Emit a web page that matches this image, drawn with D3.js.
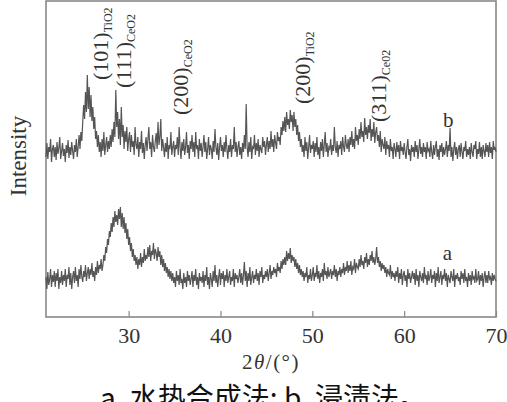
<!DOCTYPE html>
<html>
<head>
<meta charset="utf-8">
<script src="https://cdn.jsdelivr.net/npm/d3@7"></script>
<style>
  body { margin: 0; background: #fff; }
  svg { display: block; }
  .serif { font-family: "Liberation Serif", "DejaVu Serif", serif; fill: #333; }
</style>
</head>
<body>
<svg width="507" height="402"></svg>
<script>
var svg = d3.select("svg");

// 2-theta grid: 21.0 .. 70.0, step 0.1
var thetaStart = 21, thetaStep = 0.1;

// curve b (impregnation), intensity in plot units (already offset)
var seriesB = [
  160,174,158,170,165,178,155,168,172,160,
  170,157,175,163,169,180,158,166,174,161,
  168,155,172,164,177,159,170,162,175,166,
  158,172,165,178,160,170,182,168,185,176,
  195,212,198,225,205,242,208,230,200,222,
  196,210,188,200,178,186,170,182,165,175,
  160,178,166,185,162,172,180,165,176,168,
  182,170,188,175,195,180,227,190,205,178,
  198,172,210,180,192,168,186,175,190,166,
  178,185,165,182,170,176,162,190,172,168,
  180,160,175,168,186,164,174,158,172,180,
  166,178,190,168,175,160,182,170,165,176,
  184,168,195,172,180,198,166,178,170,160,
  174,165,180,158,172,168,185,162,170,176,
  160,172,168,180,162,190,170,158,175,166,
  178,162,170,185,164,172,158,176,168,182,
  165,175,160,185,168,172,158,178,166,174,
  160,170,182,165,175,158,168,180,162,172,
  168,158,176,165,188,170,162,174,157,170,
  180,166,172,160,175,165,182,168,158,172,
  165,178,160,172,168,190,165,175,160,170,
  176,162,170,158,174,165,182,168,213,170,
  160,175,165,180,158,170,168,182,162,174,
  166,178,160,172,168,164,180,170,176,162,
  172,180,165,176,168,186,170,178,165,182,
  174,168,185,176,180,172,190,182,196,186,
  200,185,205,192,198,188,207,195,202,186,
  205,190,198,182,192,176,185,170,178,165,
  172,160,180,166,175,158,170,182,164,172,
  168,176,160,174,165,180,162,170,158,175,
  166,178,160,172,185,165,174,160,170,168,
  178,162,172,166,190,170,164,176,160,172,
  168,176,162,180,170,165,182,172,168,178,
  165,180,172,186,170,178,168,190,176,182,
  172,188,178,195,180,186,175,199,182,190,
  178,192,184,198,176,188,180,195,174,185,
  190,176,182,170,186,165,178,172,168,180,
  162,176,168,172,160,178,166,170,158,174,
  168,160,175,165,172,158,176,166,170,162,
  174,165,158,170,178,162,168,156,172,165,
  170,160,176,165,172,158,168,178,163,170,
  160,174,165,170,158,175,166,168,160,176,
  165,158,172,162,170,176,160,168,157,172,
  165,174,160,170,162,168,176,160,172,166,
  189,160,170,156,168,175,162,170,158,168,
  172,160,174,165,158,170,166,176,160,168,
  162,170,158,174,165,160,172,168,176,158,
  168,163,175,160,170,158,172,166,160,174,
  165,172,160,175,164,170,158,176,167,170,
  165
];

// curve a (hydrothermal synthesis)
var seriesA = [
  40,28,45,32,38,48,30,42,35,46,
  30,44,36,48,28,40,34,46,32,42,
  36,48,30,42,38,50,32,44,28,40,
  46,34,50,36,42,30,48,38,52,40,
  35,46,40,52,36,44,50,38,48,42,
  54,40,46,36,50,42,56,44,52,48,
  58,46,52,62,56,70,64,78,72,86,
  80,94,85,100,90,106,95,102,92,108,
  98,110,90,104,88,100,84,94,78,88,
  72,80,66,74,60,68,56,62,52,60,
  48,58,52,64,50,60,54,68,56,62,
  58,70,60,72,56,66,62,74,58,68,
  64,56,70,60,66,52,62,50,58,46,
  54,44,50,40,48,38,46,36,44,34,
  40,30,46,36,42,32,48,34,38,28,
  44,34,40,30,46,36,42,32,38,46,
  30,42,36,48,32,40,28,44,36,40,
  34,46,30,42,36,50,32,40,28,44,
  38,30,46,36,52,34,42,30,40,48,
  32,44,38,46,30,42,36,48,34,40,
  46,32,40,36,48,30,44,38,42,34,
  40,48,34,44,32,42,55,36,46,30,
  44,36,50,32,40,46,34,42,38,48,
  36,44,32,46,40,50,34,42,38,46,
  40,48,36,44,52,38,46,42,50,44,
  48,40,54,46,50,44,56,48,58,52,
  60,52,66,56,64,58,69,54,62,56,
  60,50,58,48,54,44,52,42,48,40,
  46,36,44,40,50,34,42,38,48,36,
  42,50,36,44,40,52,38,46,34,44,
  40,48,36,54,42,46,38,50,40,44,
  48,38,46,42,52,40,48,36,46,42,
  50,40,48,44,54,42,50,46,56,44,
  52,46,56,42,50,48,58,44,54,50,
  48,58,50,62,52,56,48,60,54,64,
  50,58,52,62,56,66,54,60,52,58,
  70,54,60,50,56,46,54,48,52,44,
  50,40,48,44,42,52,38,46,40,44,
  36,46,40,50,34,44,38,48,32,42,
  46,36,42,30,48,38,44,34,40,46,
  38,44,32,48,36,42,30,46,40,36,
  44,34,50,38,42,32,46,36,40,48,
  34,42,38,46,30,44,36,50,34,40,
  46,32,42,38,48,36,44,30,42,38,
  34,46,40,36,48,30,42,38,44,36,
  40,32,46,38,44,34,48,36,40,30,
  44,36,42,32,46,38,40,34,48,36,
  38,46,32,42,36,44,30,40,46,34,
  42,34,46,38,40,32,44,36,42,38,
  36
];

var xTicks = [30, 40, 50, 60, 70];

// peak annotations
var peakTheta = [27.75, 30.25, 36.45, 49.75, 58.0];
var peakPlane = ["(101)", "(111)", "(200)", "(200)", "(311)"];
var peakPhase = ["TiO2", "CeO2", "CeO2", "TiO2", "Ce02"];
var peakBase  = [237, 229, 202, 213, 195];

var curveNames = ["a", "b"];
var curveLabelTheta = [64.7, 64.8];
var curveLabelY = [57, 190];

var plotLeft = 46, plotRight = 496, plotTop = 1, plotBottom = 317;

var x = d3.scaleLinear().domain([21, 70]).range([plotLeft, plotRight]);
var y = d3.scaleLinear().domain([0, 316]).range([plotBottom, plotTop]);

var line = d3.line()
  .x(function(d, i) { return x(thetaStart + i * thetaStep); })
  .y(function(d) { return y(d); });

// frame
svg.append("rect")
  .attr("x", plotLeft).attr("y", plotTop)
  .attr("width", plotRight - plotLeft).attr("height", plotBottom - plotTop)
  .attr("fill", "none").attr("stroke", "#888").attr("stroke-width", 1.6);

// inward ticks
var xAxis = d3.axisBottom(x).tickValues(xTicks).tickSizeInner(-6).tickSizeOuter(0).tickPadding(10);
var gx = svg.append("g").attr("transform", "translate(0," + plotBottom + ")").call(xAxis);
gx.select(".domain").remove();
gx.selectAll(".tick line").attr("stroke", "#888").attr("stroke-width", 1.2);
gx.selectAll(".tick text")
  .attr("class", "serif")
  .attr("font-size", 22)
  .attr("fill", "#333")
  .attr("dy", "0.71em");

// curves
[seriesA, seriesB].forEach(function(s) {
  svg.append("path")
    .datum(s)
    .attr("d", line)
    .attr("fill", "none")
    .attr("stroke", "#555")
    .attr("stroke-width", 1.2);
});

// peak labels (rotated)
peakTheta.forEach(function(t, i) {
  var g = svg.append("text")
    .attr("class", "serif")
    .attr("font-size", 22)
    .attr("transform", "translate(" + x(t) + "," + y(peakBase[i]) + ") rotate(-90)");
  g.append("tspan").text(peakPlane[i]);
  g.append("tspan").attr("font-size", 12).attr("dy", 4).text(peakPhase[i]);
});

// curve labels
curveNames.forEach(function(n, i) {
  svg.append("text")
    .attr("class", "serif")
    .attr("font-size", 21)
    .attr("text-anchor", "middle")
    .attr("x", x(curveLabelTheta[i]))
    .attr("y", y(curveLabelY[i]))
    .text(n);
});

// y label
svg.append("text")
  .attr("class", "serif")
  .attr("font-size", 23)
  .attr("text-anchor", "middle")
  .attr("transform", "translate(26,156) rotate(-90)")
  .text("Intensity");

// x label
var xl = svg.append("text")
  .attr("class", "serif")
  .attr("font-size", 21)
  .attr("letter-spacing", 1.5)
  .attr("text-anchor", "middle")
  .attr("x", 271).attr("y", 369);
xl.append("tspan").text("2");
xl.append("tspan").attr("font-style", "italic").text("\u03b8");
xl.append("tspan").text("/(\u00b0)");

// caption
svg.append("text")
  .attr("x", 100).attr("y", 408)
  .attr("font-family", "'Noto Sans CJK SC', 'Noto Sans', sans-serif")
  .attr("font-size", 28)
  .attr("fill", "#111")
  .text("a. 水热合成法; b. 浸渍法。");
</script>
</body>
</html>
